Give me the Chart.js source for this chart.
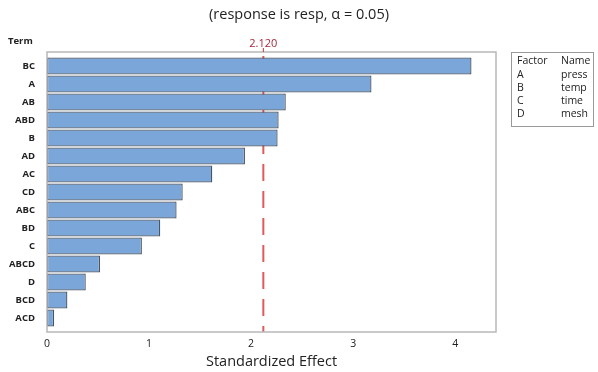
<!DOCTYPE html>
<html>
<head>
<meta charset="utf-8">
<script src="https://cdn.jsdelivr.net/npm/chart.js@4.4.1/dist/chart.umd.min.js"></script>
<style>
  html, body { margin: 0; padding: 0; background: #fff; }
  #wrap { width: 598px; height: 372px; position: relative; }
</style>
</head>
<body>
<div id="wrap"><canvas id="plot"></canvas></div>
<script>
// Pareto chart data
const terms = ['BC', 'A', 'AB', 'ABD', 'B', 'AD', 'AC', 'CD', 'ABC', 'BD', 'C', 'ABCD', 'D', 'BCD', 'ACD'];
const effects = [4.16, 3.18, 2.34, 2.27, 2.26, 1.94, 1.62, 1.33, 1.27, 1.11, 0.93, 0.52, 0.38, 0.20, 0.07];
const xTicks = [0, 1, 2, 3, 4];
const critical = 2.120;
const factorCodes = ['A', 'B', 'C', 'D'];
const factorNames = ['press', 'temp', 'time', 'mesh'];
const titleText = '(response is resp, \u03b1 = 0.05)';

const FONT = '"Open Sans", "Noto Sans", sans-serif';

// Draws the frame, reference line, title and side texts
const decorPlugin = {
  id: 'decor',
  beforeDatasetsDraw(chart) {
    const { ctx, chartArea: a, scales: { x } } = chart;
    const px = x.getPixelForValue(critical);
    ctx.save();
    ctx.strokeStyle = '#e05a5a';
    ctx.lineWidth = 2;
    ctx.setLineDash([17, 10]);
    ctx.lineDashOffset = -4;
    ctx.beginPath();
    ctx.moveTo(px, a.top);
    ctx.lineTo(px, a.bottom);
    ctx.stroke();
    ctx.restore();
  },
  afterDraw(chart) {
    const { ctx, chartArea: a, scales: { x } } = chart;
    const px = x.getPixelForValue(critical);
    ctx.save();
    // frame
    ctx.strokeStyle = '#b8b8b8';
    ctx.lineWidth = 1.5;
    ctx.strokeRect(a.left, a.top, a.right - a.left, a.bottom - a.top);
    // title, centred on the whole page
    ctx.fillStyle = '#222';
    ctx.font = '14.5px ' + FONT;
    ctx.textAlign = 'center';
    ctx.textBaseline = 'middle';
    ctx.fillText(titleText, chart.width / 2, 15);
    // critical value label
    ctx.strokeStyle = '#c0392b';
    ctx.lineWidth = 1;
    ctx.beginPath();
    ctx.moveTo(px, a.top - 4);
    ctx.lineTo(px, a.top);
    ctx.stroke();
    ctx.fillStyle = '#a8283c';
    ctx.font = '11px ' + FONT;
    ctx.textBaseline = 'bottom';
    ctx.fillText(critical.toFixed(3), px, a.top - 3);
    // Term heading
    ctx.fillStyle = '#222';
    ctx.font = 'bold 9.5px ' + FONT;
    ctx.textAlign = 'left';
    ctx.textBaseline = 'middle';
    ctx.fillText('Term', 8, 41);
    // factor table
    ctx.strokeStyle = '#999';
    ctx.lineWidth = 1;
    ctx.strokeRect(511.5, 52.5, 82, 74);
    ctx.font = '10.5px ' + FONT;
    ctx.fillStyle = '#222';
    ctx.fillText('Factor', 517, 61);
    ctx.fillText('Name', 561, 61);
    factorCodes.forEach((c, i) => {
      const y = 75 + i * 13;
      ctx.fillText(c, 517, y);
      ctx.fillText(factorNames[i], 561, y);
    });
    ctx.restore();
  }
};

const ctx = document.getElementById('plot').getContext('2d');
new Chart(ctx, {
  type: 'bar',
  data: {
    datasets: [{
      data: terms.map((t, i) => ({ y: i, x: effects[i] })),
      backgroundColor: '#7ba6da',
      borderColor: '#4a5565',
      borderWidth: 1.3,
      borderSkipped: false,
      categoryPercentage: 1,
      barPercentage: 0.95
    }]
  },
  plugins: [decorPlugin],
  options: {
    indexAxis: 'y',
    responsive: true,
    maintainAspectRatio: false,
    animation: false,
    layout: { padding: { top: 52, right: 102, bottom: 1, left: 2 } },
    plugins: {
      legend: { display: false },
      tooltip: { enabled: false },
      title: { display: false }
    },
    scales: {
      x: {
        type: 'linear',
        min: 0,
        max: 4.4,
        afterBuildTicks: (s) => { s.ticks = xTicks.map(v => ({ value: v })); },
        grid: { display: false, drawTicks: true, tickLength: 4, tickColor: '#999' },
        border: { display: false },
        ticks: { color: '#222', font: { family: FONT, size: 10.5 }, padding: 2 },
        title: {
          display: true,
          text: 'Standardized Effect',
          color: '#222',
          font: { family: FONT, size: 14.5 },
          padding: { top: 1, bottom: 0 }
        }
      },
      y: {
        type: 'linear',
        reverse: true,
        offset: false,
        min: -0.78,
        max: 14.78,
        afterBuildTicks: (s) => { s.ticks = terms.map((t, i) => ({ value: i })); },
        afterFit: (s) => { s.width = 45; },
        grid: { display: false, drawTicks: true, tickLength: 3, tickColor: '#999' },
        border: { display: false },
        ticks: {
          color: '#222',
          font: { family: FONT, size: 9.5, weight: 'bold' },
          padding: 9,
          callback: (v) => terms[v]
        }
      }
    }
  }
});
</script>
</body>
</html>
